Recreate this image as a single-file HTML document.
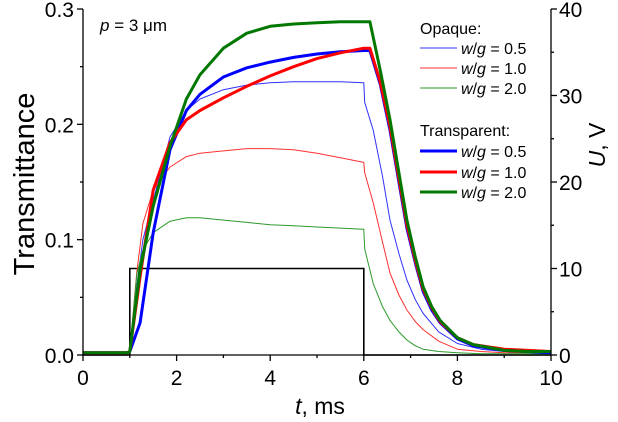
<!DOCTYPE html>
<html><head><meta charset="utf-8"><style>
html,body{margin:0;padding:0;background:#fff;}
svg{display:block;font-family:"Liberation Sans",sans-serif;}
</style></head><body>
<svg id="chart" width="618" height="422"></svg>
<script>
const xTicks=[0,2,4,6,8,10];
const yTicks=[0.0,0.1,0.2,0.3];
const yTickLabels=["0.0","0.1","0.2","0.3"];
const uTicks=[0,10,20,30,40];
const pulseT=[0,1,1,6,6,10];
const pulseU=[0,0,10,10,0,0];
const tThin=[0,0.95,1.0,1.15,1.28,1.5,1.86,2.21,2.5,3,3.5,4,4.5,5,5.5,6,6.02,6.2,6.4,6.56,6.75,6.92,7.1,7.27,7.6,8,8.5,9,9.5,10];
const opaque05=[0.002,0.002,0.003,0.06,0.1,0.134,0.189,0.212,0.222,0.23,0.234,0.236,0.237,0.237,0.237,0.236,0.219,0.195,0.155,0.117,0.088,0.065,0.048,0.036,0.02,0.01,0.005,0.003,0.002,0.002];
const opaque10=[0.002,0.002,0.003,0.072,0.114,0.143,0.163,0.172,0.175,0.177,0.179,0.179,0.178,0.175,0.171,0.167,0.158,0.132,0.098,0.071,0.052,0.039,0.029,0.022,0.012,0.005,0.003,0.002,0.002,0.002];
const opaque20=[0.002,0.002,0.003,0.07,0.091,0.106,0.116,0.119,0.119,0.117,0.115,0.113,0.112,0.111,0.110,0.109,0.092,0.062,0.042,0.030,0.02,0.013,0.008,0.005,0.003,0.002,0.001,0.001,0.001,0.001];
const tThick=[0,0.95,1.0,1.22,1.5,1.86,2.21,2.5,3,3.5,4,4.5,5,5.5,6,6.13,6.35,6.56,6.75,6.92,7.1,7.27,7.45,7.63,8,8.34,9,9.5,10];
const trans05=[0.002,0.002,0.003,0.028,0.106,0.178,0.212,0.226,0.241,0.249,0.254,0.258,0.261,0.263,0.264,0.264,0.235,0.195,0.15,0.11,0.08,0.055,0.039,0.028,0.014,0.008,0.004,0.003,0.002];
const trans10=[0.002,0.002,0.003,0.068,0.143,0.184,0.204,0.212,0.223,0.233,0.242,0.25,0.257,0.262,0.266,0.266,0.237,0.198,0.153,0.113,0.082,0.057,0.041,0.029,0.015,0.009,0.005,0.004,0.003];
const trans20=[0.002,0.002,0.003,0.074,0.129,0.181,0.222,0.243,0.266,0.279,0.285,0.287,0.288,0.289,0.289,0.289,0.247,0.204,0.158,0.117,0.085,0.059,0.042,0.030,0.015,0.009,0.004,0.003,0.003];

const NS="http://www.w3.org/2000/svg";
const svg=document.getElementById('chart');
const X0=83,X1=551,Y0=355,Y1=9;
const sx=t=>X0+(t/10)*(X1-X0);
const sy=v=>Y0-(v/0.3)*(Y0-Y1);
const su=u=>Y0-(u/40)*(Y0-Y1);
function mk(tag,attrs,parent){const e=document.createElementNS(NS,tag);for(const k in attrs)e.setAttribute(k,attrs[k]);(parent||svg).appendChild(e);return e;}
function txt(s,x,y,size,anchor,parent){const e=mk('text',{x:x,y:y,'font-size':size,'text-anchor':anchor||'middle',fill:'#000'},parent);e.textContent=s;return e;}

const series=[
 {name:'opaque-wg-0.5',t:tThin,v:opaque05,c:'#3030ff',w:1},
 {name:'opaque-wg-1.0',t:tThin,v:opaque10,c:'#ff3030',w:1},
 {name:'opaque-wg-2.0',t:tThin,v:opaque20,c:'#2a9a2a',w:1},
 {name:'transparent-wg-0.5',t:tThick,v:trans05,c:'#0000ff',w:3},
 {name:'transparent-wg-1.0',t:tThick,v:trans10,c:'#ff0000',w:3},
 {name:'transparent-wg-2.0',t:tThick,v:trans20,c:'#007800',w:3},
];
const pl=mk('polyline',{points:pulseT.map((t,i)=>sx(t)+','+su(pulseU[i])).join(' '),fill:'none',stroke:'#000','stroke-width':1.6});


series.forEach(s=>{
 const p=mk('polyline',{points:s.t.map((t,i)=>sx(t).toFixed(1)+','+sy(s.v[i]).toFixed(1)).join(' '),fill:'none',stroke:s.c,'stroke-width':s.w,'stroke-linejoin':'round'});
 
 
});
const ax=mk('g',{stroke:'#000','stroke-width':1.3,fill:'none'});


mk('line',{x1:X0,y1:Y0,x2:X1,y2:Y0},ax);
mk('line',{x1:X0,y1:Y0,x2:X0,y2:Y1},ax);
mk('line',{x1:X1,y1:Y0,x2:X1,y2:Y1},ax);
for(let t=0;t<=10;t++){mk('line',{x1:sx(t),y1:Y0,x2:sx(t),y2:Y0+(t%2?3:6)},ax);}
for(let i=0;i<=6;i++){const v=i*0.05;mk('line',{x1:X0,y1:sy(v),x2:X0-(i%2?3:6),y2:sy(v)},ax);}
for(let u=0;u<=40;u+=5){mk('line',{x1:X1,y1:su(u),x2:X1+(u%10?3:6),y2:su(u)},ax);}
xTicks.forEach(t=>{const e=txt(String(t),sx(t),385,21);});
yTicks.forEach((v,i)=>{const e=txt(yTickLabels[i],X0-9,sy(v)+8,21,'end');});
uTicks.forEach(u=>{const e=txt(String(u),X1+8,su(u)+8,21,'start');});
</script>
<svg width="618" height="422" style="position:absolute;left:0;top:0">
<text x="34" y="184" font-size="29" text-anchor="middle" transform="rotate(-90 34 184)" font-family="Liberation Sans,sans-serif">Transmittance</text>
<text x="320" y="414" font-size="23" text-anchor="middle" font-family="Liberation Sans,sans-serif"><tspan font-style="italic">t</tspan>, ms</text>
<text x="605" y="145" font-size="23" text-anchor="middle" transform="rotate(-90 605 145)" font-family="Liberation Sans,sans-serif"><tspan font-style="italic">U</tspan>, V</text>
<text x="100" y="31" font-size="17" font-family="Liberation Sans,sans-serif"><tspan font-style="italic">p</tspan> = 3 μm</text>
<g font-family="Liberation Sans,sans-serif" font-size="16">
<text x="420" y="34">Opaque:</text>
<line x1="420" y1="48" x2="457" y2="48" stroke="#3030ff" stroke-width="1"/><text x="461" y="54"><tspan font-style="italic">w</tspan>/<tspan font-style="italic">g</tspan> = 0.5</text>
<line x1="420" y1="68" x2="457" y2="68" stroke="#ff3030" stroke-width="1"/><text x="461" y="74"><tspan font-style="italic">w</tspan>/<tspan font-style="italic">g</tspan> = 1.0</text>
<line x1="420" y1="88" x2="457" y2="88" stroke="#2a9a2a" stroke-width="1"/><text x="461" y="94"><tspan font-style="italic">w</tspan>/<tspan font-style="italic">g</tspan> = 2.0</text>
<text x="420" y="136">Transparent:</text>
<line x1="420" y1="151" x2="457" y2="151" stroke="#0000ff" stroke-width="3"/><text x="461" y="157"><tspan font-style="italic">w</tspan>/<tspan font-style="italic">g</tspan> = 0.5</text>
<line x1="420" y1="172" x2="457" y2="172" stroke="#ff0000" stroke-width="3"/><text x="461" y="178"><tspan font-style="italic">w</tspan>/<tspan font-style="italic">g</tspan> = 1.0</text>
<line x1="420" y1="192" x2="457" y2="192" stroke="#007800" stroke-width="3"/><text x="461" y="198"><tspan font-style="italic">w</tspan>/<tspan font-style="italic">g</tspan> = 2.0</text>
</g>
</svg>
</body></html>
